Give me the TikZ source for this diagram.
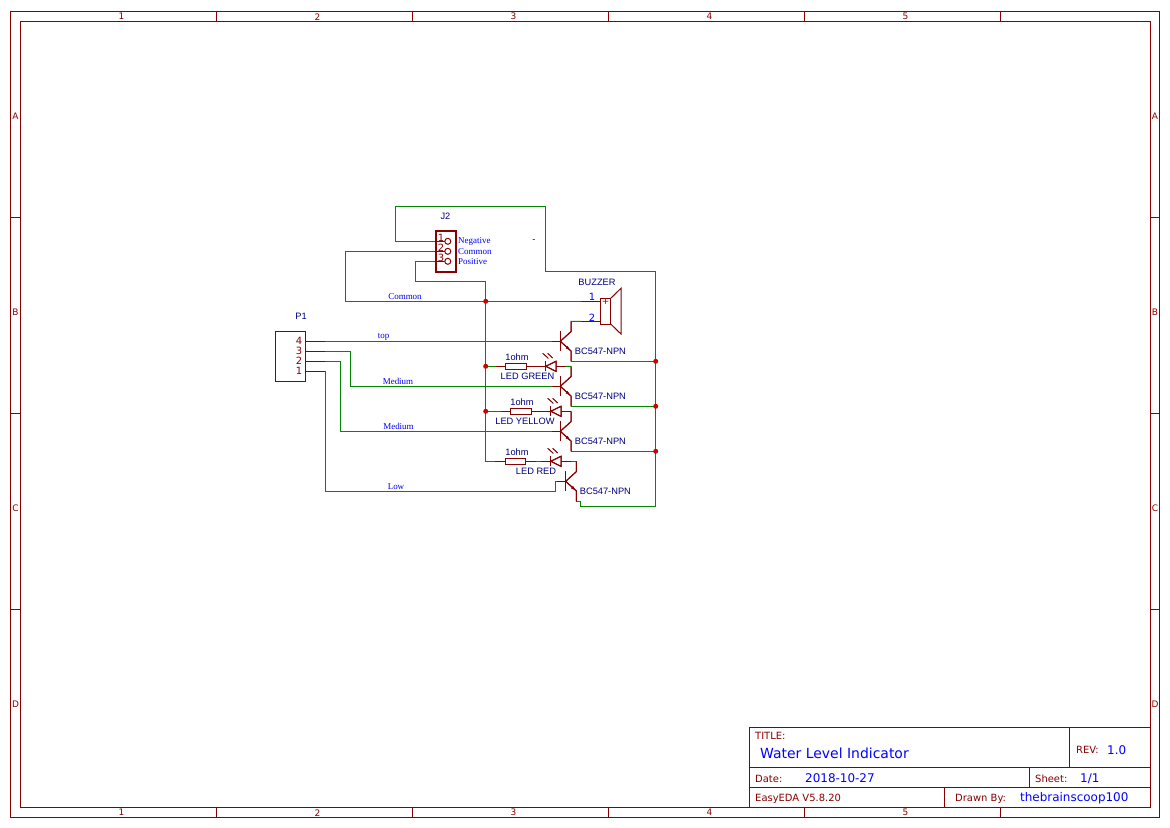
\documentclass[tikz,border=0pt]{standalone}
\usepackage{fontspec}
\setmainfont{DejaVu Sans}
\newfontfamily\partfont{Liberation Sans}
\newfontfamily\netfont{Liberation Serif}
\definecolor{partred}{HTML}{880000}
\definecolor{wiregreen}{HTML}{008800}
\definecolor{netblue}{HTML}{0000FF}
\definecolor{partnavy}{HTML}{000080}
\definecolor{dotred}{HTML}{CC0000}
\newcommand{\fs}[1]{\fontsize{#1}{#1}\selectfont}
\tikzset{
  x=1bp,y=-1bp,
  frameline/.style={draw=partred,line width=1bp},
  partline/.style={draw=partred,line width=1bp,line join=miter},
  wire/.style={draw=wiregreen,line width=1.1bp,line join=miter},
  dot/.style={circle,fill=dotred,draw=none,minimum size=5bp,inner sep=0},
  lab/.style={inner sep=0,anchor=center},
  bordertxt/.style={lab,text=partred,font=\fs{9}},
  tbtxt/.style={inner sep=0,anchor=west,text=partred,font=\fs{10}},
  tbval/.style={inner sep=0,anchor=west,text=netblue,font=\fs{12}},
  comptxt/.style={lab,text=partnavy,font=\partfont\fs{9.3}},
  nettxt/.style={lab,text=netblue,font=\netfont\fs{9}},
  pinnum/.style={lab,text=partred,font=\fs{10}},
  npn/.pic={
    \coordinate (-b) at (-8.6,0);
    \coordinate (-c) at (10.7,-19.7);
    \coordinate (-e) at (10.7,20);
    \draw[partline] (0,-10) -- (0,10);
    \draw[partline] (-b) -- (0,0);
    \draw[partline] (-c) -- (10.7,-9.7) -- (0,0) -- (10.7,9.7) -- (-e);
    \fill[partred] (9.4,8.5) -- (5.4,6.9) -- (7.3,4.8) -- cycle;
  },
  resbody/.pic={
    \coordinate (-l) at (-10,0);
    \coordinate (-r) at (30.3,0);
    \draw[partline] (-l) -- (0,0) (20.3,0) -- (-r);
    \draw[partline] (0,-3) rectangle (20.3,3);
  },
  ledbody/.pic={
    \coordinate (-a) at (-10,0);
    \coordinate (-k) at (20.3,0);
    \draw[partline] (-a) -- (0,0) (10.3,0) -- (-k);
    \draw[partline] (0,-5) -- (0,5);
    \draw[partline] (0,0) -- (10.3,-5) -- (10.3,5) -- cycle;
    \draw[partline,line width=.7bp] (-3,-13) -- (2.6,-8);
    \draw[partline,line width=.7bp] (2,-13) -- (7,-8.3);
  },
}
\begin{document}
\begin{tikzpicture}
\useasboundingbox (0,0) rectangle (1170,828);
\fill[white] (0,0) rectangle (1170,828);
% sheet frame
\draw[frameline] (10.5,11.5) rectangle (1159.5,817.5);
\draw[frameline] (20.5,21.5) rectangle (1150,807.5);
\foreach \x in {216.5,412.5,608.5,804.5,1000.5}{
  \draw[frameline] (\x,11.5) -- (\x,21.5);
  \draw[frameline] (\x,807.5) -- (\x,817.5);
}
\foreach \y in {217.5,413.5,609.5}{
  \draw[frameline] (10.5,\y) -- (20.5,\y);
  \draw[frameline] (1150,\y) -- (1159.5,\y);
}
\foreach \t/\x in {1/121.5,2/317.5,3/513.5,4/709.5,5/905.5}{
  \node[bordertxt,name=top\t] at (\x,16.7) {\t};
  \node[bordertxt,name=bot\t] at (\x,812.7) {\t};
}
\foreach \t/\y in {A/116,B/312,C/508,D/704}{
  \node[bordertxt,name=lft\t] at (15.5,\y) {\t};
  \node[bordertxt,name=rgt\t] at (1155,\y) {\t};
}
% title block
\draw[frameline] (749.7,727.7) rectangle (1150,807.5);
\draw[frameline] (749.7,767.5) -- (1150,767.5);
\draw[frameline] (749.7,787.5) -- (1150,787.5);
\draw[frameline] (1069.7,727.7) -- (1069.7,767.5);
\draw[frameline] (1029.7,767.5) -- (1029.7,787.5);
\draw[frameline] (944.7,787.5) -- (944.7,807.5);
\node[tbtxt,name=ttitle] at (755,736) {TITLE:};
\node[tbval,name=vtitle,font=\fs{14}] at (760,753) {Water Level Indicator};
\node[tbtxt,name=trev] at (1076,750) {REV:};
\node[tbval,name=vrev] at (1107,750) {1.0};
\node[tbtxt,name=tdate] at (755,779) {Date:};
\node[tbval,name=vdate] at (805,778.5) {2018-10-27};
\node[tbtxt,name=tsheet] at (1035,779) {Sheet:};
\node[tbval,name=vsheet] at (1080,778.5) {1/1};
\node[tbtxt,name=tver] at (755,799) {EasyEDA V5.8.20};
\node[tbtxt,name=tby] at (955,799) {Drawn By:};
\node[tbval,name=vby] at (1020,798.5) {thebrainscoop100};
% named terminals
\coordinate (j2a) at (445,241.3);
\coordinate (j2b) at (445,251.3);
\coordinate (j2c) at (445,261.3);
\coordinate (p4) at (325,341.3);
\coordinate (p3) at (325,351.3);
\coordinate (p2) at (325,361.3);
\coordinate (p1) at (325,371.3);
\coordinate (bz1) at (581,301.3);
\coordinate (bz2) at (581,321.3);
\coordinate (jcom) at (485.7,301.3);
\coordinate (jgrn) at (485.7,366.3);
\coordinate (jyel) at (485.7,411.3);
\coordinate (je1) at (655.7,361.3);
\coordinate (je2) at (655.7,406.3);
\coordinate (je3) at (655.7,451.3);
% parts placed first so their terminals exist
\path (560.3,341.3) pic (q1) {npn};
\path (560.3,386.3) pic (q2) {npn};
\path (560.3,431.3) pic (q3) {npn};
\path (565.7,481.3) pic (q4) {npn};
\path (505.7,366.3) pic (r1) {resbody};
\path (510.7,411.3) pic (r2) {resbody};
\path (505.2,461.3) pic (r3) {resbody};
\path (545.7,366.3) pic (d1) {ledbody};
\path (550.7,411.3) pic (d2) {ledbody};
\path (550.7,461.3) pic (d3) {ledbody};
% wires
\draw[wire] (j2a) -- (395.7,241.3) -- (395.7,206.5) -- (545.7,206.5) -- (545.7,271.3) -- (655.7,271.3) -- (655.7,506.5) -- (580.7,506.5) -- (580.7,501.3) -- (q4-e);
\draw[wire] (j2b) -- (345.7,251.3) -- (345.7,301.3) -- (bz1);
\draw[wire] (j2c) -- (415.7,261.3) -- (415.7,281.3) -- (485.7,281.3) -- (485.7,461.3) -- (r3-l);
\draw[wire] (p4) -- (q1-b);
\draw[wire] (p3) -- (350.7,351.3) -- (350.7,386.3) -- (q2-b);
\draw[wire] (p2) -- (340.7,361.3) -- (340.7,431.3) -- (q3-b);
\draw[wire] (p1) -- (325.7,371.3) -- (325.7,491.3) -- (555.7,491.3) -- (555.7,481.3) -- (q4-b);
\draw[wire] (q1-c) -- (571,321.3) -- (bz2);
\draw[wire] (q1-e) -- (je1);
\draw[wire] (q2-e) -- (je2);
\draw[wire] (q3-e) -- (je3);
\draw[wire] (jgrn) -- (r1-l);
\draw[wire] (jyel) -- (r2-l);
\draw[wire] (r1-r) -- (d1-a);
\draw[wire] (r2-r) -- (d2-a);
\draw[wire] (r3-r) -- (d3-a);
\draw[wire] (d1-k) -- (571,366.3) -- (q2-c);
\draw[wire] (d2-k) -- (571,411.3) -- (q3-c);
\draw[wire] (d3-k) -- (576.4,461.3) -- (q4-c);
% redraw parts over the wires
\path (560.3,341.3) pic {npn};
\path (560.3,386.3) pic {npn};
\path (560.3,431.3) pic {npn};
\path (565.7,481.3) pic {npn};
\path (505.7,366.3) pic {resbody};
\path (510.7,411.3) pic {resbody};
\path (505.2,461.3) pic {resbody};
\path (545.7,366.3) pic {ledbody};
\path (550.7,411.3) pic {ledbody};
\path (550.7,461.3) pic {ledbody};
% junctions
\foreach \j in {jcom,jgrn,jyel,je1,je2,je3}{\node[dot] at (\j) {};}
% P1
\draw[partline] (275.5,331.7) rectangle (305.7,381.7);
\draw[partline] (305.7,341.3) -- (p4) (305.7,351.3) -- (p3) (305.7,361.3) -- (p2) (305.7,371.3) -- (p1);
\node[pinnum,name=n4] at (299,341) {4};
\node[pinnum,name=n3] at (299,351) {3};
\node[pinnum,name=n2] at (299,361) {2};
\node[pinnum,name=n1] at (299,371) {1};
\node[comptxt,name=lp1] at (301,316) {P1};
% J2
\draw[draw=partred,line width=2bp] (435.5,231) rectangle (455.7,271.5);
\draw[partline] (436,241.3) -- (j2a) (436,251.3) -- (j2b) (436,261.3) -- (j2c);
\foreach \y in {241.3,251.3,261.3}{\draw[partline,fill=white] (447.8,\y) circle (3);}
\node[pinnum,name=m1] at (441,238) {1};
\node[pinnum,name=m2] at (441,248) {2};
\node[pinnum,name=m3] at (441,258) {3};
\node[comptxt,name=lj2] at (445.5,216) {J2};
\node[nettxt,anchor=west,name=l1] at (458,241.7) {Negative};
\node[nettxt,anchor=west,name=l2] at (458,251.7) {Common};
\node[nettxt,anchor=west,name=l3] at (458,261.7) {Positive};
\node[comptxt,name=ldash] at (534,241) {-};
% buzzer
\draw[partline] (bz1) -- (600.7,301.3) (bz2) -- (600.7,321.3);
\draw[partline] (600.7,298.3) rectangle (610.7,324);
\draw[partline] (610.7,298.3) -- (621,288.3) -- (621,334) -- (610.7,324);
\node[lab,text=partred,font=\fs{9},name=plus] at (605.7,302) {+};
\node[lab,text=netblue,font=\fs{10},name=b1] at (592,297) {1};
\node[lab,text=netblue,font=\fs{10},name=b2] at (592,317.5) {2};
\node[comptxt,name=lbz] at (597,282) {BUZZER};
% part labels
\node[comptxt,anchor=west,name=lq1] at (574.7,351) {BC547-NPN};
\node[comptxt,anchor=west,name=lq2] at (574.7,396) {BC547-NPN};
\node[comptxt,anchor=west,name=lq3] at (574.7,441) {BC547-NPN};
\node[comptxt,anchor=west,name=lq4] at (579.7,491) {BC547-NPN};
\node[comptxt,name=lr1] at (517,357.3) {1ohm};
\node[comptxt,name=lr2] at (522,402.3) {1ohm};
\node[comptxt,name=lr3] at (517,452.5) {1ohm};
\node[comptxt,name=ld1] at (527.5,376.5) {LED GREEN};
\node[comptxt,name=ld2] at (525,421.5) {LED YELLOW};
\node[comptxt,name=ld3] at (536,471.5) {LED RED};
% net labels
\node[nettxt,name=ncommon] at (405,296.7) {Common};
\node[nettxt,name=ntop] at (383.5,336.5) {top};
\node[nettxt,name=nmed1] at (398,381.5) {Medium};
\node[nettxt,name=nmed2] at (398.5,426.5) {Medium};
\node[nettxt,name=nlow] at (396,486.5) {Low};
\end{tikzpicture}
\end{document}
